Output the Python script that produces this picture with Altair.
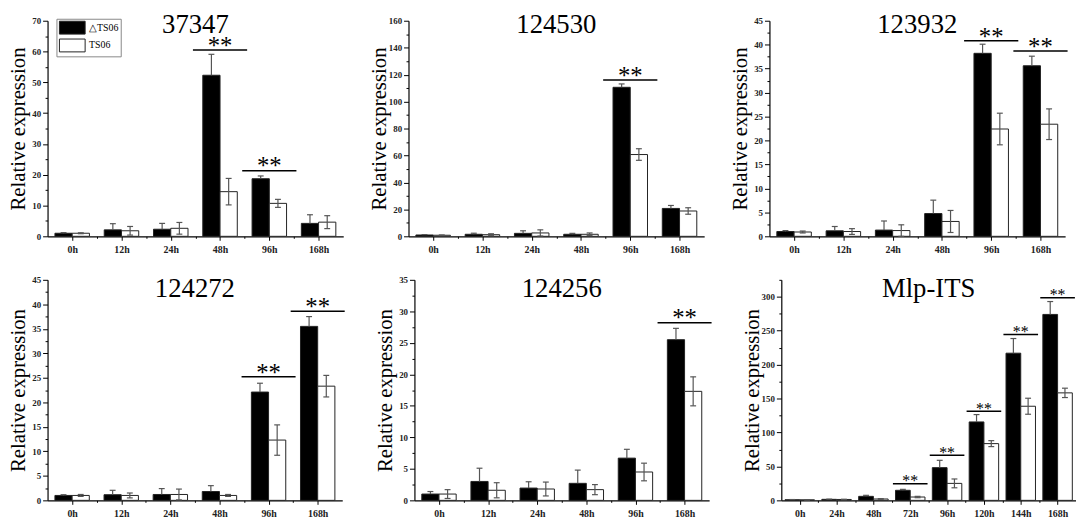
import altair as alt
import pandas as pd
import numpy as np

FONT = "Liberation Serif"
MUT = "△TS06"
WT = "TS06"

cats6 = ["0h", "12h", "24h", "48h", "96h", "168h"]
cats8 = ["0h", "24h", "48h", "72h", "96h", "120h", "144h", "168h"]

# ---- 37347
p1_mut = [1.0, 2.1, 2.3, 52.3, 18.7, 4.2]
p1_mut_err = [0.2, 2.0, 1.9, 6.8, 0.9, 2.8]
p1_wt = [1.0, 1.8, 2.6, 14.5, 10.7, 4.6]
p1_wt_err = [0.15, 1.4, 1.9, 4.3, 1.3, 2.1]
p1_sig_cats = ["48h", "96h"]
p1_sig_y = [60.5, 21.3]

# ---- 124530
p2_mut = [1.0, 1.5, 2.2, 1.5, 110.6, 20.7]
p2_mut_err = [0.3, 0.8, 1.9, 0.7, 2.5, 2.2]
p2_wt = [0.8, 1.2, 2.5, 1.5, 60.7, 18.8]
p2_wt_err = [0.2, 0.7, 2.3, 1.0, 4.3, 2.4]
p2_sig_cats = ["96h"]
p2_sig_y = [116.0]

# ---- 123932
p3_mut = [1.0, 1.15, 1.3, 4.75, 38.2, 35.6]
p3_mut_err = [0.2, 0.9, 1.9, 2.8, 1.9, 2.0]
p3_wt = [0.9, 1.0, 1.2, 3.1, 22.4, 23.4]
p3_wt_err = [0.2, 0.6, 1.2, 2.3, 3.3, 3.2]
p3_sig_cats = ["96h", "168h"]
p3_sig_y = [40.8, 38.7]

# ---- 124272
p4_mut = [1.0, 1.15, 1.2, 1.8, 22.1, 35.5]
p4_mut_err = [0.15, 0.9, 1.2, 1.2, 1.8, 2.0]
p4_wt = [1.0, 1.0, 1.2, 1.0, 12.3, 23.3]
p4_wt_err = [0.2, 0.5, 1.1, 0.2, 3.1, 2.2]
p4_sig_cats = ["96h", "168h"]
p4_sig_y = [25.2, 38.6]

# ---- 124256
p5_mut = [1.0, 3.0, 1.95, 2.7, 6.7, 25.5]
p5_mut_err = [0.4, 2.1, 1.0, 2.1, 1.4, 1.8]
p5_wt = [1.0, 1.6, 1.8, 1.7, 4.5, 17.3]
p5_wt_err = [0.7, 1.2, 1.1, 0.8, 1.4, 2.3]
p5_sig_cats = ["168h"]
p5_sig_y = [28.2]

# ---- Mlp-ITS
p6_mut = [0.9, 1.5, 5.9, 14.8, 48.2, 115.6, 216.9, 274.0]
p6_mut_err = [0.3, 0.3, 1.5, 1.4, 10.8, 10.8, 21.6, 19.0]
p6_wt = [0.8, 1.3, 2.0, 4.9, 25.0, 83.6, 138.7, 158.4]
p6_wt_err = [0.3, 0.3, 0.5, 1.0, 6.5, 4.4, 11.8, 6.9]
p6_sig_cats = ["72h", "96h", "120h", "144h", "168h"]
p6_sig_y = [24.6, 66.4, 131.3, 244.5, 298.6]


def panel(title, cats, mut, mut_err, wt, wt_err, sig_cats, sig_y,
          ymax, major, minor, bw, sig_hw, sig_size, cap, title_offset,
          width, height, legend=False):
    n = len(cats)
    rows = []
    for i, c in enumerate(cats):
        rows.append(dict(idx=i, cat=c, grp=MUT, val=mut[i], err=mut_err[i]))
        rows.append(dict(idx=i, cat=c, grp=WT, val=wt[i], err=wt_err[i]))
    df = pd.DataFrame(rows)
    is_mut = df["grp"] == MUT
    df["x0"] = np.where(is_mut, df["idx"] - bw, df["idx"])
    df["x1"] = df["x0"] + bw
    df["xc"] = df["x0"] + bw / 2
    df["c0"] = df["xc"] - cap
    df["c1"] = df["xc"] + cap
    df["lo"] = np.where(is_mut, df["val"], df["val"] - df["err"])
    df["hi"] = df["val"] + df["err"]
    df["base"] = 0.0
    df["fillc"] = np.where(is_mut, "black", "white")

    sig = pd.DataFrame({"cat": sig_cats, "y": sig_y})
    sig["idx"] = [cats.index(c) for c in sig_cats]
    sig["s0"] = sig["idx"] - sig_hw
    sig["s1"] = sig["idx"] + sig_hw
    sig["txt"] = "**"

    xscale = alt.Scale(domain=[-0.5, n - 0.5], nice=False, zero=False)
    yscale = alt.Scale(domain=[0, ymax], nice=False)
    arr = "[" + ",".join("'%s'" % c for c in cats) + "]"
    xvals = sorted(list(range(n)) + [i + 0.5 for i in range(n - 1)])
    xaxis = alt.Axis(
        values=xvals,
        labelExpr="datum.value %% 1 === 0 ? %s[datum.value] : ''" % arr,
        title=None,
        tickSize={"condition": {"test": "datum.value % 1 === 0", "value": 4}, "value": 2},
        labelPadding=4,
    )
    yvals = [round(v, 3) for v in np.arange(0, ymax + 1e-9, minor)]
    yaxis = alt.Axis(
        values=yvals, title="Relative expression",
        labelExpr="datum.value %% %s === 0 ? datum.label : ''" % major,
        tickSize={"condition": {"test": "datum.value %% %s === 0" % major, "value": 5}, "value": 2.5},
        titlePadding=0, minExtent=19, maxExtent=19,
    )

    def X(f):
        return alt.X(f, type="quantitative", scale=xscale, axis=xaxis)

    def Y(f):
        return alt.Y(f, type="quantitative", scale=yscale, axis=yaxis)

    base = alt.Chart(df)
    if legend:
        fill = alt.Fill(
            "grp:N",
            scale=alt.Scale(domain=[MUT, WT], range=["black", "white"]),
            legend=alt.Legend(
                title=None, orient="none", legendX=9, legendY=-2,
                symbolType="M-2,-1H2V1H-2Z", symbolSize=169,
                symbolStrokeColor="#555", symbolStrokeWidth=1,
                symbolOffset=7, labelOffset=10,
                labelFont=FONT, labelFontSize=10, labelColor="black",
                padding=2, rowPadding=0, strokeColor="#888",
                fillColor="white",
            ),
        )
    else:
        fill = alt.Fill("fillc:N", scale=None)

    bars = base.mark_rect(stroke="#222", strokeWidth=1).encode(
        x=X("x0"), x2="x1", y=Y("val"), y2="base", fill=fill
    )
    err = base.mark_rule(color="#555", strokeWidth=1.2).encode(
        x=X("xc"), y=Y("lo"), y2="hi"
    )
    cap_top = base.mark_rule(color="#555", strokeWidth=1.2).encode(
        x=X("c0"), x2="c1", y=Y("hi")
    )
    cap_bot = base.transform_filter(alt.datum.grp == WT).mark_rule(
        color="#555", strokeWidth=1.2
    ).encode(x=X("c0"), x2="c1", y=Y("lo"))

    sbase = alt.Chart(sig)
    srule = sbase.mark_rule(color="black", strokeWidth=1.5).encode(
        x=X("s0"), x2="s1", y=Y("y")
    )
    stext = sbase.mark_text(
        font=FONT, fontSize=sig_size, color="black", baseline="alphabetic",
        dy=sig_size * 0.15,
    ).encode(x=X("idx"), y=Y("y"), text="txt:N")

    return alt.layer(bars, err, cap_top, cap_bot, srule, stext).properties(
        width=width, height=height,
        title=alt.TitleParams(
            text=title, font=FONT, fontSize=27, fontWeight="normal",
            color="black", frame="group", anchor="middle", offset=title_offset,
        ),
    )


W_TOP, H_TOP = 299, 218
W_BOT, H_BOT = 298, 223

c1 = panel("37347", cats6, p1_mut, p1_mut_err, p1_wt, p1_wt_err, p1_sig_cats, p1_sig_y,
           70, 10, 5, 0.35, 0.55, 25, 0.06, -22, W_TOP, H_TOP, legend=True)
c2 = panel("124530", cats6, p2_mut, p2_mut_err, p2_wt, p2_wt_err, p2_sig_cats, p2_sig_y,
           160, 20, 10, 0.35, 0.55, 25, 0.06, -22, W_TOP, H_TOP)
c3 = panel("123932", cats6, p3_mut, p3_mut_err, p3_wt, p3_wt_err, p3_sig_cats, p3_sig_y,
           45, 5, 2.5, 0.35, 0.55, 25, 0.06, -22, W_TOP, H_TOP)
c4 = panel("124272", cats6, p4_mut, p4_mut_err, p4_wt, p4_wt_err, p4_sig_cats, p4_sig_y,
           45, 5, 2.5, 0.35, 0.55, 25, 0.06, -27, W_BOT, H_BOT)
c5 = panel("124256", cats6, p5_mut, p5_mut_err, p5_wt, p5_wt_err, p5_sig_cats, p5_sig_y,
           35, 5, 2.5, 0.35, 0.55, 25, 0.06, -27, W_BOT, H_BOT)
c6 = panel("Mlp-ITS", cats8, p6_mut, p6_mut_err, p6_wt, p6_wt_err, p6_sig_cats, p6_sig_y,
           325, 50, 25, 0.4, 0.47, 16, 0.08, -27, W_BOT, H_BOT)

top = alt.hconcat(c1, c2, c3, spacing=26)
bot = alt.hconcat(c4, c5, c6, spacing=29)
chart = alt.vconcat(top, bot, spacing=21).properties(
    padding=0, background="white"
).configure_view(stroke=None).configure_axis(
    grid=False, tickColor="black", domainColor="black", domainWidth=1.2,
    tickWidth=1, labelFont=FONT, labelFontWeight="bold", labelColor="#222",
    labelFlush=False, labelOverlap=False, titleFont=FONT, titleFontSize=21,
    titleFontWeight="normal", titleColor="black",
).configure_axisX(labelFontSize=10).configure_axisY(labelFontSize=9, labelPadding=2)

chart.save("out.html", embed_options={"renderer": "svg", "actions": False})
